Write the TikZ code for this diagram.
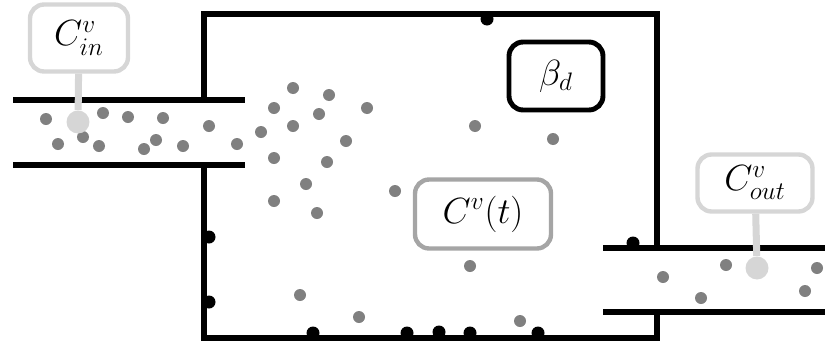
\documentclass[tikz,border=0pt]{standalone}
\usepackage{amsmath}
\usetikzlibrary{positioning}
\definecolor{dotgray}{RGB}{128,128,128}
\definecolor{pinlight}{RGB}{214,214,214}
\definecolor{boxgray}{RGB}{165,165,165}

\begin{document}
\begin{tikzpicture}[x=0.02cm,y=-0.02cm,
    wall/.style={line width=2.9pt},
    label/.style={rounded corners=8pt, fill=white, font=\fontsize{21}{25}\selectfont, inner sep=0pt},
    pinbox/.style={label, draw=pinlight, line width=2.5pt},
    blackbox/.style={label, draw=black, line width=2.8pt},
    graybox/.style={label, draw=boxgray, line width=2.5pt},
    pinhead/.style={circle, fill=pinlight, minimum size=0.46cm, inner sep=0pt},
    pinstem/.style={draw=pinlight, line width=4pt}]
      \useasboundingbox (0,0) rectangle (825,345);

      % tank and pipes
      \draw[wall] (204,100) -- (204,14) -- (657,14) -- (657,248);
      \draw[wall] (204,165) -- (204,338) -- (657,338) -- (657,312);
      \draw[wall] (13,100) -- (245,100);
      \draw[wall] (13,165) -- (245,165);
      \draw[wall] (603,248) -- (825,248);
      \draw[wall] (603,312) -- (825,312);

      % particles
      \foreach \x/\y in {46/119, 103/113, 128/117, 163/118, 209/126, 58/144, 83/137, 99/146,
                         144/149, 156/140, 183/146, 237/144, 293/88, 329/95, 274/108, 319/114,
                         367/108, 293/126, 261/132, 346/141, 274/158, 327/162, 475/126, 553/139,
                         306/184, 274/201, 317/213, 395/191, 470/266, 300/295, 359/317, 520/321,
                         663/277, 726/265, 701/298, 817/268, 805/291}
        \fill[dotgray] (\x,\y) circle (6);

      % deposited particles
      \foreach \x/\y in {487/19, 209/237, 209/302, 313/333, 407/333, 439/332, 470/333, 538/333, 633/243}
        \fill (\x,\y) circle (6.5);

      \node[pinbox, minimum width=1.96cm, minimum height=1.34cm] (cin) at (79,38) {$C^v_{in}$};
      \node[pinhead] (cinpt) at (78,122) {};
      \node[blackbox, minimum width=1.88cm, minimum height=1.36cm] (beta) at (556,76) {$\beta_d$};
      \node[graybox, minimum width=2.72cm, minimum height=1.38cm] (ct) at (483,214) {$C^v(t)$};
      \node[pinbox, minimum width=2.3cm, minimum height=1.14cm] (cout) at (755,183) {$C^v_{out}$};
      \node[pinhead] (coutpt) at (757,268) {};

      \path[pinstem] (cin) -- (cinpt)
                     (cout) -- (coutpt);
    \end{tikzpicture}
\end{document}
